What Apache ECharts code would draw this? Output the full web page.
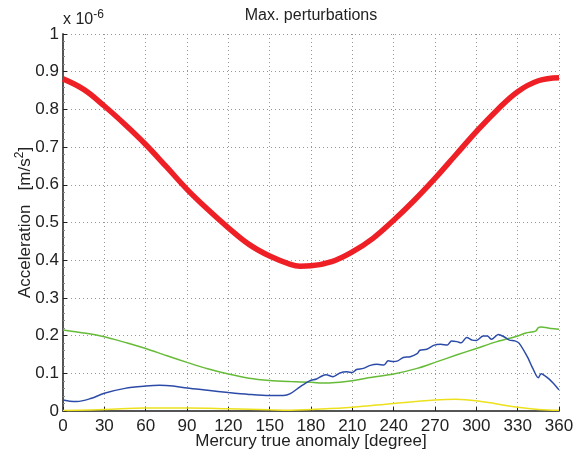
<!DOCTYPE html>
<html>
<head>
<meta charset="utf-8">
<script src="https://cdn.jsdelivr.net/npm/echarts@6/dist/echarts.min.js"></script>
<style>
  html, body { margin: 0; padding: 0; background: #fff; }
  #main { width: 575px; height: 456px; }
</style>
</head>
<body>
<div id="main"></div>
<script>
// values (units of 1e-6 m/s^2)
const redX = [0, 15, 30, 45, 60, 75, 90, 105, 120, 135, 150, 165, 172, 180, 195, 210, 225, 240, 255, 270, 285, 300, 315, 330, 345, 360];
const redY = [0.881, 0.853, 0.809, 0.760, 0.707, 0.648, 0.588, 0.535, 0.486, 0.442, 0.411, 0.389, 0.384, 0.385, 0.396, 0.422, 0.458, 0.506, 0.559, 0.617, 0.679, 0.741, 0.798, 0.847, 0.876, 0.884];

const greenX = [0, 15, 30, 45, 60, 75, 90, 105, 120, 135, 150, 165, 180, 191, 201, 210, 220, 240, 257, 270, 286, 300, 315, 330, 336, 343, 345, 347, 354, 360];
const greenY = [0.215, 0.207, 0.197, 0.182, 0.166, 0.147, 0.129, 0.112, 0.098, 0.087, 0.081, 0.078, 0.076, 0.074, 0.076, 0.080, 0.087, 0.098, 0.113, 0.129, 0.149, 0.166, 0.184, 0.199, 0.207, 0.212, 0.221, 0.223, 0.219, 0.217];

const blueX = [0, 5, 10, 20, 30, 45, 60, 70, 80, 90, 105, 120, 135, 150, 160, 165, 172, 179, 184, 188, 191, 196, 201, 206, 210, 213, 218, 223, 228, 233, 236, 240, 243, 247, 252, 257, 259, 264, 269, 274, 279, 282, 286, 289, 293, 297, 300, 305, 308, 311, 316, 320, 324, 328, 331, 337, 341, 345, 347, 352, 357, 360];
const blueY = [0.029, 0.026, 0.025, 0.033, 0.047, 0.060, 0.066, 0.068, 0.066, 0.061, 0.055, 0.049, 0.044, 0.041, 0.041, 0.046, 0.064, 0.080, 0.085, 0.093, 0.096, 0.091, 0.101, 0.104, 0.102, 0.110, 0.113, 0.121, 0.124, 0.122, 0.133, 0.131, 0.133, 0.142, 0.144, 0.152, 0.161, 0.164, 0.174, 0.177, 0.175, 0.186, 0.184, 0.181, 0.195, 0.188, 0.187, 0.199, 0.199, 0.190, 0.203, 0.197, 0.188, 0.186, 0.180, 0.144, 0.113, 0.088, 0.099, 0.087, 0.069, 0.056];

const yellowX = [0, 30, 60, 90, 120, 150, 165, 180, 210, 240, 270, 285, 300, 330, 345, 360];
const yellowY = [0.001, 0.004, 0.008, 0.008, 0.006, 0.003, 0.002, 0.004, 0.010, 0.020, 0.029, 0.031, 0.027, 0.010, 0.004, 0.002];

function zip(xs, ys) {
  return xs.map(function (x, i) { return [x, ys[i]]; });
}

const font = "Liberation Sans, Arial, sans-serif";
const myChart = echarts.init(document.getElementById("main"), null, {renderer: "canvas"});

const option = {
  backgroundColor: "#fff",
  animation: false,
  title: {
    text: "Max. perturbations",
    left: 311,
    top: 8,
    padding: 0,
    textAlign: "center",
    textStyle: {fontFamily: font, fontSize: 16, fontWeight: "normal", color: "#222"}
  },
  grid: {left: 63, right: 16, top: 34, bottom: 45, outerBoundsMode: "none", containLabel: false},
  graphic: [
    {
      type: "text",
      left: 63,
      top: 9,
      style: {
        text: "x 10{sup|-6}",
        fontFamily: font,
        fontSize: 16,
        fill: "#222",
        rich: {sup: {fontSize: 12, verticalAlign: "top", padding: [0, 0, 10, 0], fontFamily: font, fill: "#222"}}
      }
    }
  ],
  xAxis: {
    type: "value",
    min: 0,
    max: 360,
    interval: 30,
    name: "Mercury true anomaly [degree]",
    nameLocation: "middle",
    nameGap: 22,
    nameMoveOverlap: false,
    nameTextStyle: {fontFamily: font, fontSize: 17, color: "#222"},
    axisLine: {show: true, onZero: false, lineStyle: {color: "#555", width: 2}},
    axisTick: {show: true, inside: true, length: 4, lineStyle: {color: "#222"}},
    axisLabel: {fontFamily: font, fontSize: 17, color: "#222", margin: 7},
    splitLine: {show: true, lineStyle: {color: "#999", type: [1, 3], width: 1}}
  },
  yAxis: {
    type: "value",
    min: 0,
    max: 1,
    interval: 0.1,
    name: "Acceleration   [m/s{sup|2}]",
    nameLocation: "middle",
    nameRotate: 90,
    nameGap: 27,
    nameMoveOverlap: false,
    nameTextStyle: {
      fontFamily: font, fontSize: 17, color: "#222",
      rich: {sup: {fontSize: 12, verticalAlign: "top", padding: [0, 0, 10, 0], fontFamily: font, color: "#222"}}
    },
    axisLine: {show: true, lineStyle: {color: "#555", width: 2}},
    axisTick: {show: true, inside: true, length: 4, lineStyle: {color: "#222"}},
    minorTick: {show: true, splitNumber: 5, length: 2, lineStyle: {color: "#888"}},
    axisLabel: {fontFamily: font, fontSize: 17, color: "#222", margin: 4},
    splitLine: {show: true, lineStyle: {color: "#999", type: [1, 3], width: 1}}
  },
  series: [
    {
      name: "yellow", type: "line", data: zip(yellowX, yellowY), smooth: 0.4, symbol: "none",
      lineStyle: {color: "#ece11c", width: 1.5}
    },
    {
      name: "green", type: "line", data: zip(greenX, greenY), smooth: 0.3, symbol: "none",
      lineStyle: {color: "#66bb38", width: 1.5}
    },
    {
      name: "blue", type: "line", data: zip(blueX, blueY), smooth: 0.3, symbol: "none",
      lineStyle: {color: "#2c4ba8", width: 1.5}
    },
    {
      name: "red", type: "line", data: zip(redX, redY), smooth: 0.4, symbol: "none",
      lineStyle: {color: "#ee2026", width: 5.5}
    }
  ]
};

myChart.setOption(option);
</script>
</body>
</html>
